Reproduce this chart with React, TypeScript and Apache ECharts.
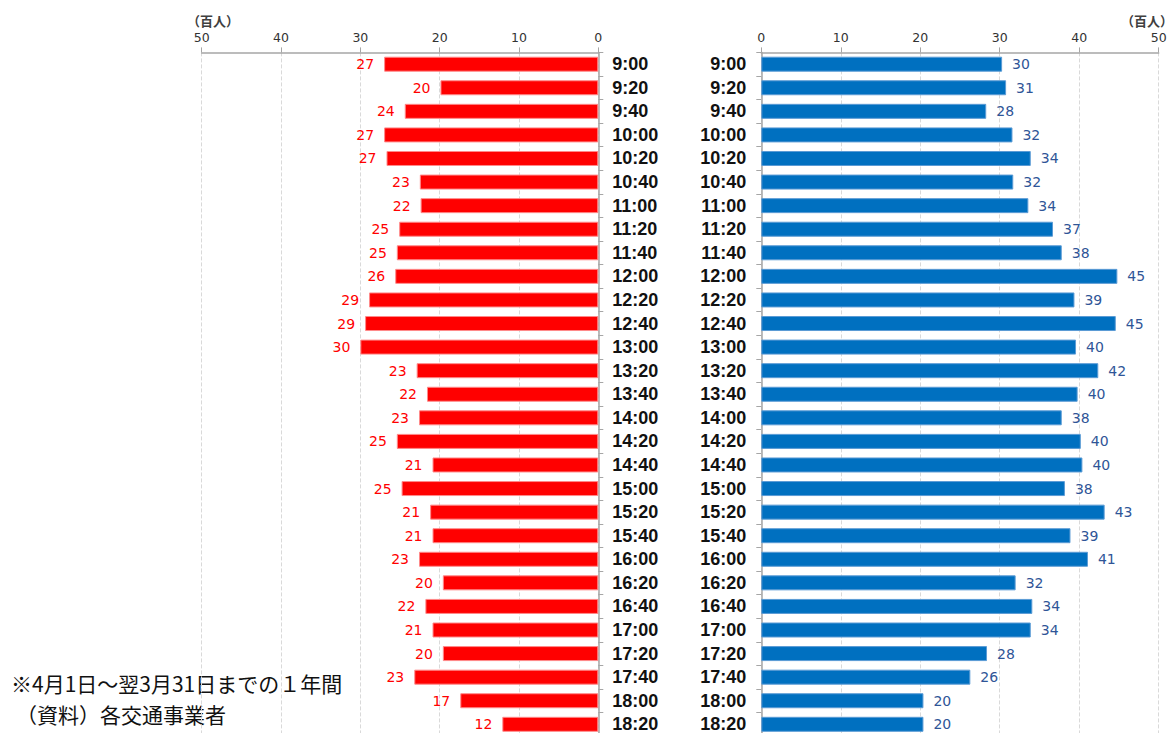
import React, { useEffect, useRef } from 'react';
import * as echarts from 'echarts';

const categories = [
  '9:00', '9:20', '9:40', '10:00', '10:20', '10:40', '11:00', '11:20', '11:40',
  '12:00', '12:20', '12:40', '13:00', '13:20', '13:40', '14:00', '14:20', '14:40',
  '15:00', '15:20', '15:40', '16:00', '16:20', '16:40', '17:00', '17:20', '17:40',
  '18:00', '18:20',
];

const leftValues = [
  27.0, 19.9, 24.4, 27.0, 26.7, 22.5, 22.4, 25.1, 25.4,
  25.6, 28.9, 29.4, 30.0, 22.9, 21.6, 22.6, 25.4, 20.9,
  24.8, 21.2, 20.9, 22.6, 19.6, 21.8, 20.9, 19.6, 23.2,
  17.4, 12.1,
];

const rightValues = [
  30.3, 30.8, 28.3, 31.6, 33.9, 31.7, 33.6, 36.7, 37.8,
  44.8, 39.4, 44.6, 39.6, 42.4, 39.8, 37.8, 40.2, 40.4,
  38.2, 43.2, 38.9, 41.1, 32.0, 34.1, 33.9, 28.4, 26.3,
  20.4, 20.4,
];

const axisMin = 0;
const axisMax = 50;
const axisStep = 10;

const unitText = '（百人）';
const noteLines = ['※4月1日～翌3月31日までの１年間', '（資料）各交通事業者'];

export default function App() {
  const ref = useRef<HTMLDivElement>(null);

  useEffect(() => {
    if (!ref.current) return;
    const chart = echarts.init(ref.current, null, { renderer: 'svg' });

    const gridTop = 52.4;
    const gridHeight = 683.7;

    const axisLine = { show: true, lineStyle: { color: '#a6a6a6', width: 1.5 } };
    const xAxisBase = {
      type: 'value',
      position: 'top',
      min: axisMin,
      max: axisMax,
      interval: axisStep,
      axisLine,
      axisTick: { show: true, length: 5, lineStyle: { color: '#a6a6a6' } },
      axisLabel: { color: '#333333', fontFamily: 'DejaVu Sans', fontSize: 12.5, margin: 8 },
      splitLine: { show: true, lineStyle: { color: '#d9d9d9', type: 'dashed', width: 1 } },
    };
    const yLabel = {
      fontFamily: 'Liberation Sans',
      fontWeight: 'bold',
      fontSize: 18,
      color: '#111111',
    };

    chart.setOption({
      animation: false,
      grid: [
        {
          left: 201.7,
          right: 1173 - 598.3,
          top: gridTop,
          height: gridHeight,
          containLabel: false,
          outerBoundsMode: 'none',
        },
        {
          left: 761.3,
          right: 1173 - 1158.7,
          top: gridTop,
          height: gridHeight,
          containLabel: false,
          outerBoundsMode: 'none',
        },
      ],
      xAxis: [
        { ...xAxisBase, gridIndex: 0, inverse: true },
        { ...xAxisBase, gridIndex: 1, inverse: false },
      ],
      yAxis: [
        {
          gridIndex: 0,
          type: 'category',
          data: categories,
          inverse: true,
          position: 'right',
          axisLine,
          axisTick: { show: true, length: 5, lineStyle: { color: '#a6a6a6' } },
          axisLabel: { ...yLabel, align: 'left', margin: 14 },
        },
        {
          gridIndex: 1,
          type: 'category',
          data: categories,
          inverse: true,
          position: 'left',
          axisLine,
          axisTick: { show: true, length: 5, lineStyle: { color: '#a6a6a6' } },
          axisLabel: { ...yLabel, align: 'right', margin: 15 },
        },
      ],
      series: [
        {
          type: 'bar',
          xAxisIndex: 0,
          yAxisIndex: 0,
          data: leftValues,
          barWidth: 15,
          itemStyle: { color: '#ff0000', borderColor: '#ff8a8a', borderWidth: 1 },
          label: {
            show: true,
            position: 'left',
            distance: 10,
            color: '#ff0000',
            fontFamily: 'DejaVu Sans',
            fontSize: 14,
            formatter: (p: any) => String(Math.round(p.value)),
          },
        },
        {
          type: 'bar',
          xAxisIndex: 1,
          yAxisIndex: 1,
          data: rightValues,
          barWidth: 15,
          itemStyle: { color: '#0070c0', borderColor: '#5b9bd5', borderWidth: 1 },
          label: {
            show: true,
            position: 'right',
            distance: 10,
            color: '#2f5597',
            fontFamily: 'DejaVu Sans',
            fontSize: 14,
            formatter: (p: any) => String(Math.round(p.value)),
          },
        },
      ],
      graphic: [
        {
          type: 'text',
          x: 187,
          y: 20,
          style: {
            text: unitText,
            font: 'bold 13px "Noto Sans CJK JP"',
            fill: '#404040',
            verticalAlign: 'middle',
          },
        },
        {
          type: 'text',
          x: 1173,
          y: 20,
          style: {
            text: unitText,
            font: 'bold 13px "Noto Sans CJK JP"',
            fill: '#404040',
            align: 'right',
            verticalAlign: 'middle',
          },
        },
        {
          type: 'text',
          x: 11,
          y: 683,
          style: {
            text: noteLines[0],
            font: '21px "Noto Sans CJK JP"',
            fill: '#111111',
            verticalAlign: 'middle',
          },
        },
        {
          type: 'text',
          x: 16,
          y: 714,
          style: {
            text: noteLines[1],
            font: '21px "Noto Sans CJK JP"',
            fill: '#111111',
            verticalAlign: 'middle',
          },
        },
      ],
    });

    return () => chart.dispose();
  }, []);

  return (
    <div
      ref={ref}
      style={{ position: 'absolute', left: 0, top: 0, width: 1173, height: 733 }}
    />
  );
}
